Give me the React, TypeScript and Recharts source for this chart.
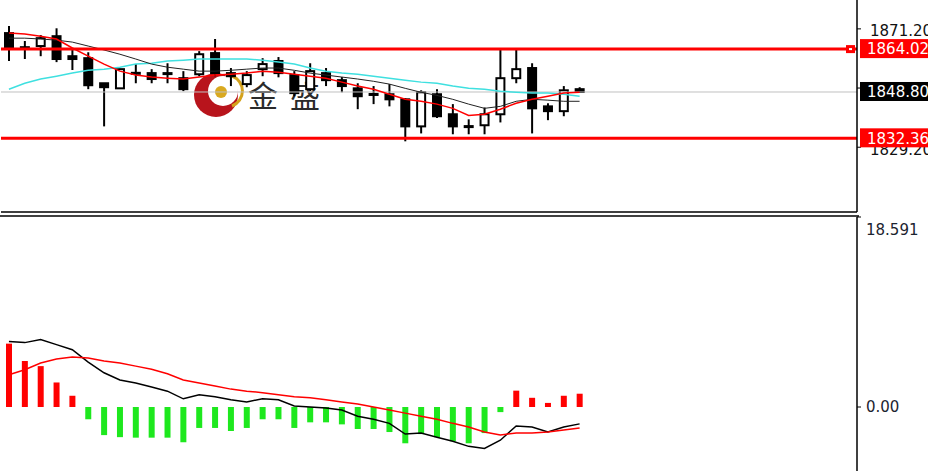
import React from 'react';
import { ComposedChart, Bar, Line, XAxis, YAxis, ReferenceLine, Cell } from 'recharts';

// candles (oldest first)
const opens = [1869.7, 1864.7, 1865.1, 1868.6, 1861.5, 1860.8, 1851.9, 1850.1, 1855.6, 1855.5, 1855.4, 1853.7, 1855.1, 1862.6, 1855.5, 1851.6, 1856.9, 1859.8, 1854.8, 1849.8, 1855.5, 1853.0, 1850.1, 1848.1, 1848.0, 1846.2, 1836.6, 1848.0, 1840.9, 1836.7, 1837.0, 1840.9, 1853.7, 1857.3, 1843.7, 1842.0, 1849.8];
const highs = [1872.2, 1866.9, 1869.0, 1871.4, 1863.7, 1862.9, 1852.0, 1857.0, 1858.7, 1856.9, 1859.0, 1856.2, 1863.3, 1867.6, 1857.3, 1856.2, 1860.8, 1861.2, 1856.2, 1859.0, 1857.3, 1854.1, 1851.9, 1850.9, 1851.6, 1846.6, 1849.4, 1849.8, 1844.5, 1839.1, 1843.3, 1863.8, 1863.8, 1859.0, 1844.8, 1850.9, 1850.5];
const lows = [1859.8, 1860.5, 1861.5, 1859.4, 1856.6, 1849.8, 1836.6, 1850.0, 1851.9, 1851.9, 1851.9, 1849.1, 1854.4, 1854.4, 1850.9, 1850.5, 1854.4, 1854.0, 1847.3, 1849.1, 1850.9, 1848.7, 1842.7, 1844.5, 1843.7, 1831.3, 1834.1, 1839.6, 1833.8, 1833.8, 1833.8, 1838.0, 1851.9, 1834.1, 1838.8, 1840.2, 1848.8];
const closes = [1864.4, 1864.5, 1867.9, 1860.5, 1860.5, 1851.2, 1850.5, 1856.9, 1855.4, 1853.4, 1855.5, 1849.8, 1862.2, 1855.5, 1854.4, 1854.8, 1858.7, 1855.5, 1848.4, 1856.2, 1853.0, 1850.9, 1847.3, 1847.9, 1846.2, 1836.6, 1848.7, 1840.2, 1836.6, 1836.5, 1840.9, 1853.7, 1856.9, 1843.0, 1842.0, 1849.4, 1848.8];

// moving averages on the price panel
const maBlack = [1867.9, 1867.9, 1867.6, 1867.2, 1866.5, 1865.1, 1863.7, 1862.2, 1860.5, 1858.7, 1857.6, 1856.9, 1856.2, 1856.2, 1856.5, 1856.9, 1857.3, 1857.3, 1856.5, 1855.5, 1854.8, 1854.1, 1853.4, 1852.6, 1851.6, 1850.1, 1848.7, 1847.6, 1846.2, 1844.5, 1843.0, 1843.7, 1845.5, 1846.2, 1845.9, 1845.5, 1845.5];
const maRed = [1869.7, 1869.4, 1868.6, 1867.6, 1864.4, 1861.5, 1858.7, 1856.2, 1854.8, 1854.1, 1853.7, 1853.4, 1854.1, 1854.8, 1855.1, 1855.5, 1856.2, 1855.8, 1855.1, 1854.4, 1853.7, 1852.3, 1850.9, 1849.8, 1848.0, 1846.2, 1845.5, 1844.5, 1843.0, 1840.5, 1840.9, 1842.7, 1844.8, 1846.2, 1847.3, 1848.4, 1848.7];
const maCyan = [1849.8, 1851.9, 1853.4, 1854.4, 1855.5, 1856.5, 1856.9, 1857.6, 1858.7, 1859.0, 1859.8, 1860.1, 1860.5, 1860.5, 1860.5, 1860.5, 1860.1, 1859.4, 1858.7, 1857.3, 1856.2, 1855.5, 1855.1, 1854.4, 1853.7, 1853.0, 1852.3, 1851.9, 1850.9, 1850.1, 1849.8, 1849.1, 1848.7, 1848.4, 1848.4, 1848.0, 1847.3];

// MACD panel
const macdHist = [6.2, 4.5, 4.0, 2.4, 1.1, -1.2, -2.75, -2.95, -3.0, -3.0, -3.0, -3.45, -2.05, -2.05, -2.35, -2.05, -1.2, -1.2, -2.05, -1.5, -1.5, -1.7, -2.15, -2.15, -2.45, -3.55, -2.65, -2.95, -3.35, -3.55, -2.55, -0.5, 1.6, 0.9, 0.4, 1.1, 1.3];
const macdLine = [6.4, 6.3, 6.6, 6.1, 5.6, 4.4, 3.35, 2.65, 2.35, 1.95, 1.55, 0.8, 1.2, 1.0, 0.7, 0.5, 0.8, 0.7, 0.1, 0, -0.1, -0.3, -0.9, -1.2, -1.6, -2.65, -2.55, -2.95, -3.35, -3.85, -4.05, -3.25, -1.85, -1.95, -2.45, -1.95, -1.65];
const signalLine = [3.15, 3.65, 4.3, 4.7, 4.9, 4.8, 4.5, 4.3, 4.0, 3.7, 3.25, 2.65, 2.35, 2.05, 1.75, 1.55, 1.4, 1.2, 1.0, 0.9, 0.7, 0.5, 0.3, 0, -0.3, -0.6, -0.9, -1.2, -1.6, -1.95, -2.45, -2.75, -2.55, -2.55, -2.45, -2.25, -2.05];

const priceTicks = [1808.2, 1829.2, 1850.2, 1871.2];
const macdTicks = [0, 18.591];
const resistance = 1864.02;
const support = 1832.36;
const lastPrice = 1848.8;
const priceDomain = [1806.22, 1881.44];

// 54 slots across the panel, only the first ones hold bars
const slots = Array.from({ length: 54 }, (_, i) => i);
const rows = slots.map(i => ({
  slot: i,
  open: opens[i] ?? null,
  high: highs[i] ?? null,
  low: lows[i] ?? null,
  close: closes[i] ?? null,
  maBlack: maBlack[i] ?? null,
  maRed: maRed[i] ?? null,
  maCyan: maCyan[i] ?? null,
  hist: macdHist[i] ?? null,
  macd: macdLine[i] ?? null,
  signal: signalLine[i] ?? null,
}));

const Candle = (props: any) => {
  const { x, y, width, height, payload } = props;
  if (payload == null || payload.open == null) return null;
  const { open, close, high, low } = payload;
  const top = Math.min(y, y + height);
  const h = Math.abs(height);
  const ratio = high === low ? 0 : h / (high - low);
  const cx = x + width / 2;
  const yo = top + (high - open) * ratio;
  const yc = top + (high - close) * ratio;
  const bodyTop = Math.min(yo, yc);
  const bodyH = Math.max(Math.abs(yo - yc), 1);
  const up = close >= open;
  return (
    <g>
      <line x1={cx} x2={cx} y1={top} y2={top + h} stroke="#000" strokeWidth={2} />
      <rect x={x + 1} y={bodyTop} width={width - 2} height={bodyH} fill={up ? '#fff' : '#000'} stroke="#000" strokeWidth={2} />
    </g>
  );
};

const priceBox = (value: number, bg: string, marker = false) => (props: any) => {
  const vb = props.viewBox || {};
  const right = vb.x + vb.width;
  return (
    <g>
      {marker && (
        <g>
          <rect x={right - 11} y={vb.y - 4} width={9} height={8} fill="#ff0000" />
          <rect x={right - 8} y={vb.y - 1} width={3} height={2} fill="#fff" />
        </g>
      )}
      <rect x={right + 3} y={vb.y - 10} width={80} height={19} fill={bg} />
      <text x={right + 10} y={vb.y} dy="0.36em" fill="#fff" fontSize={15}>{value.toFixed(2)}</text>
    </g>
  );
};

const PriceTick = (props: any) => {
  const { x, y, payload } = props;
  return (
    <text x={x + 7} y={y + 2} dy="0.36em" fill="#111" fontSize={15} textAnchor="start">
      {Number(payload.value).toFixed(2)}
    </text>
  );
};

const MacdTick = (props: any) => {
  const { x, y, payload } = props;
  const v = payload.value;
  return (
    <text x={x + 3} y={v > 0 ? y + 7 : y} dy="0.36em" fill="#1c2430" fontSize={15} textAnchor="start">
      {v === 0 ? '0.00' : String(v)}
    </text>
  );
};

const Watermark = () => (
  <svg width={928} height={471} style={{ position: 'absolute', left: 0, top: 0 }}>
    <circle cx={216} cy={95} r={22} fill="#b8141c" />
    <circle cx={223} cy={91} r={15} fill="#fff" />
    <path d="M 232 76 A 16 16 0 0 1 232 106" stroke="#d4a21c" strokeWidth={3} fill="none" />
    <circle cx={221} cy={92} r={6} fill="#d9a920" />
    <text x={248} y={107} fontSize={30} fill="#2a2a2a" fontFamily="Noto Sans CJK SC">金</text>
    <text x={290} y={107} fontSize={30} fill="#2a2a2a" fontFamily="Noto Sans CJK SC">盛</text>
  </svg>
);

export default function App() {
  return (
    <div style={{ position: 'absolute', left: 0, top: 0, width: 928, height: 471, background: '#fff', fontFamily: 'DejaVu Sans', overflow: 'hidden' }}>
      <Watermark />
      <div style={{ position: 'absolute', left: 0, top: 0 }}>
        <ComposedChart width={928} height={214} data={rows} margin={{ top: 0, right: 0, bottom: 0, left: 1 }}>
          <XAxis dataKey="slot" tick={false} tickLine={false} axisLine={{ stroke: '#000', strokeWidth: 1.5 }} height={2} />
          <YAxis
            orientation="right"
            domain={priceDomain}
            ticks={priceTicks}
            allowDataOverflow
            width={71}
            tickSize={4}
            tick={<PriceTick />}
            axisLine={{ stroke: '#000', strokeWidth: 1.5 }}
            tickLine={{ stroke: '#000' }}
          />
          <ReferenceLine y={lastPrice} stroke="#c0c0c0" strokeWidth={1} />
          <Bar dataKey={(d: any) => (d.open == null ? null : [d.low, d.high])} shape={Candle} barSize={10} isAnimationActive={false} />
          <Line dataKey="maCyan" stroke="#3fe0e0" strokeWidth={1.5} dot={false} isAnimationActive={false} />
          <Line dataKey="maBlack" stroke="#222" strokeWidth={1} dot={false} isAnimationActive={false} />
          <Line dataKey="maRed" stroke="#ff0000" strokeWidth={1.5} dot={false} isAnimationActive={false} />
          <ReferenceLine y={resistance} stroke="#ff0000" strokeWidth={3} />
          <ReferenceLine y={support} stroke="#ff0000" strokeWidth={3} />
        </ComposedChart>
      </div>
      {/* price tags drawn on a second layer so they sit above the axis labels */}
      <div style={{ position: 'absolute', left: 0, top: 0, pointerEvents: 'none' }}>
        <ComposedChart width={928} height={214} data={rows} margin={{ top: 0, right: 0, bottom: 0, left: 1 }}>
          <XAxis dataKey="slot" tick={false} tickLine={false} axisLine={false} height={2} />
          <YAxis orientation="right" domain={priceDomain} allowDataOverflow width={71} tick={false} tickLine={false} axisLine={false} />
          <ReferenceLine y={lastPrice} strokeOpacity={0} label={priceBox(lastPrice, '#000')} />
          <ReferenceLine y={resistance} strokeOpacity={0} label={priceBox(resistance, '#ff0000', true)} />
          <ReferenceLine y={support} strokeOpacity={0} label={priceBox(support, '#ff0000')} />
        </ComposedChart>
      </div>
      <svg width={928} height={471} style={{ position: 'absolute', left: 0, top: 0, pointerEvents: 'none' }}>
        <line x1={0} x2={859} y1={216} y2={216} stroke="#000" strokeWidth={1.5} />
      </svg>
      <div style={{ position: 'absolute', left: 0, top: 214 }}>
        <ComposedChart width={928} height={257} data={rows} margin={{ top: 3, right: 0, bottom: 0, left: 1 }}>
          <XAxis dataKey="slot" hide />
          <YAxis
            orientation="right"
            domain={[-6.262, 18.591]}
            ticks={macdTicks}
            allowDataOverflow
            width={71}
            tickSize={4}
            tick={<MacdTick />}
            axisLine={{ stroke: '#000', strokeWidth: 1.5 }}
            tickLine={{ stroke: '#000' }}
          />
          <Bar dataKey="hist" barSize={6} isAnimationActive={false}>
            {rows.map((r, i) => (
              <Cell key={`h-${i}`} fill={(r.hist ?? 0) >= 0 ? '#ff0000' : '#1ee81e'} />
            ))}
          </Bar>
          <Line dataKey="macd" stroke="#000" strokeWidth={1.5} dot={false} isAnimationActive={false} />
          <Line dataKey="signal" stroke="#ff0000" strokeWidth={1.5} dot={false} isAnimationActive={false} />
        </ComposedChart>
      </div>
    </div>
  );
}
